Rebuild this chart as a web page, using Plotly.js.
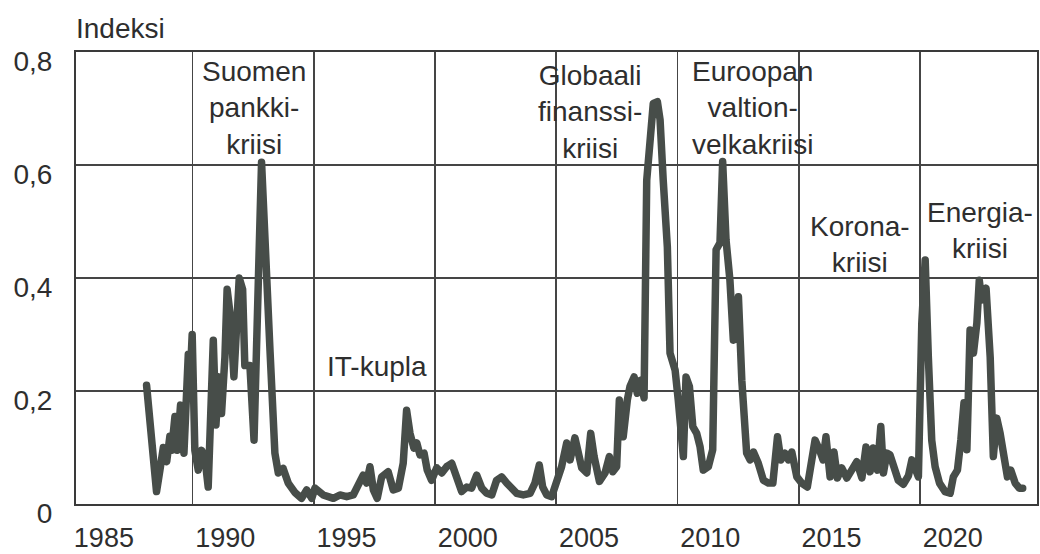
<!DOCTYPE html>
<html>
<head>
<meta charset="utf-8">
<script src="https://cdn.plot.ly/plotly-3.0.1.min.js"></script>
<style>
  html, body { margin: 0; padding: 0; background: #fff; }
  #chart { width: 1040px; height: 554px; }
  .js-line { stroke-linejoin: round !important; stroke-linecap: round !important; }
</style>
</head>
<body>
<div id="chart"></div>
<script>
// Stress index (Indeksi)
const years = [
  1986.76, 1987.17, 1987.31, 1987.45, 1987.59, 1987.72, 1987.79, 1987.93, 1988.02, 1988.16,
  1988.30, 1988.48, 1988.55, 1988.64, 1988.75, 1988.89, 1989.03, 1989.16, 1989.30, 1989.51,
  1989.62, 1989.74, 1989.85, 1989.99, 1990.08, 1990.22, 1990.36, 1990.47, 1990.58, 1990.72,
  1990.81, 1991.02, 1991.19, 1991.50, 1991.64, 1991.85, 1992.05, 1992.19, 1992.39, 1992.60,
  1992.88, 1993.15, 1993.36, 1993.57, 1993.70, 1993.84, 1994.04, 1994.25, 1994.46, 1994.73,
  1995.01, 1995.28, 1995.42, 1995.56, 1995.69, 1995.83, 1995.97, 1996.11, 1996.27, 1996.45,
  1996.59, 1996.72, 1996.93, 1997.14, 1997.34, 1997.48, 1997.62, 1997.78, 1997.90, 1998.03,
  1998.20, 1998.33, 1998.51, 1998.72, 1998.93, 1999.13, 1999.34, 1999.54, 1999.75, 1999.96,
  2000.16, 2000.37, 2000.58, 2000.78, 2000.99, 2001.19, 2001.40, 2001.61, 2001.81, 2002.02,
  2002.29, 2002.57, 2002.77, 2002.95, 2003.09, 2003.26, 2003.46, 2003.67, 2003.87, 2004.08,
  2004.22, 2004.42, 2004.56, 2004.70, 2004.91, 2005.07, 2005.21, 2005.43, 2005.66, 2005.84,
  2005.98, 2006.14, 2006.25, 2006.41, 2006.58, 2006.69, 2006.86, 2006.99, 2007.13, 2007.27,
  2007.38, 2007.52, 2007.65, 2007.82, 2007.93, 2008.06, 2008.23, 2008.34, 2008.55, 2008.68,
  2008.79, 2008.89, 2009.00, 2009.14, 2009.28, 2009.44, 2009.58, 2009.71, 2009.92, 2010.10,
  2010.24, 2010.40, 2010.51, 2010.65, 2010.81, 2010.95, 2011.16, 2011.30, 2011.50, 2011.64,
  2011.78, 2011.98, 2012.19, 2012.39, 2012.58, 2012.77, 2012.91, 2013.08, 2013.22, 2013.36,
  2013.57, 2013.77, 2014.00, 2014.18, 2014.32, 2014.50, 2014.65, 2014.77, 2014.94, 2015.10,
  2015.24, 2015.42, 2015.63, 2015.83, 2016.04, 2016.25, 2016.42, 2016.59, 2016.72, 2016.89,
  2017.03, 2017.14, 2017.28, 2017.41, 2017.55, 2017.75, 2017.96, 2018.17, 2018.31, 2018.44,
  2018.58, 2018.72, 2018.86, 2018.99, 2019.13, 2019.27, 2019.45, 2019.68, 2019.89, 2020.02,
  2020.19, 2020.33, 2020.46, 2020.58, 2020.71, 2020.85, 2020.99, 2021.09, 2021.19, 2021.37,
  2021.54, 2021.67, 2021.81, 2021.95, 2022.08, 2022.25, 2022.39, 2022.57, 2022.74, 2022.88
];
const index = [
  0.210, 0.022, 0.060, 0.100, 0.075, 0.120, 0.095, 0.155, 0.095, 0.175,
  0.090, 0.265, 0.215, 0.300, 0.095, 0.060, 0.095, 0.083, 0.030, 0.290,
  0.140, 0.225, 0.160, 0.260, 0.380, 0.330, 0.225, 0.330, 0.400, 0.380,
  0.245, 0.245, 0.113, 0.605, 0.450, 0.270, 0.090, 0.055, 0.063, 0.037,
  0.020, 0.010, 0.025, 0.010, 0.028, 0.022, 0.016, 0.013, 0.010, 0.016,
  0.013, 0.016, 0.030, 0.046, 0.051, 0.037, 0.066, 0.025, 0.010, 0.048,
  0.055, 0.057, 0.025, 0.028, 0.072, 0.166, 0.125, 0.099, 0.108, 0.087,
  0.090, 0.060, 0.042, 0.064, 0.055, 0.066, 0.072, 0.048, 0.022, 0.030,
  0.028, 0.051, 0.028, 0.019, 0.016, 0.042, 0.048, 0.037, 0.028, 0.019,
  0.016, 0.019, 0.037, 0.069, 0.030, 0.016, 0.013, 0.040, 0.066, 0.108,
  0.078, 0.117, 0.084, 0.064, 0.055, 0.125, 0.084, 0.040, 0.055, 0.084,
  0.057, 0.066, 0.184, 0.119, 0.184, 0.208, 0.225, 0.196, 0.219, 0.188,
  0.573, 0.650, 0.709, 0.712, 0.680, 0.573, 0.455, 0.267, 0.237, 0.184,
  0.119, 0.084, 0.225, 0.208, 0.137, 0.125, 0.101, 0.060, 0.066, 0.096,
  0.450, 0.462, 0.606, 0.467, 0.396, 0.290, 0.367, 0.219, 0.090, 0.078,
  0.092, 0.072, 0.042, 0.037, 0.037, 0.119, 0.078, 0.090, 0.078, 0.092,
  0.048, 0.037, 0.030, 0.078, 0.113, 0.096, 0.078, 0.119, 0.048, 0.092,
  0.046, 0.064, 0.046, 0.060, 0.075, 0.046, 0.101, 0.057, 0.099, 0.060,
  0.137, 0.055, 0.090, 0.087, 0.064, 0.042, 0.035, 0.050, 0.078, 0.060,
  0.048, 0.320, 0.432, 0.260, 0.113, 0.066, 0.037, 0.022, 0.019, 0.048,
  0.060, 0.113, 0.179, 0.096, 0.308, 0.267, 0.320, 0.396, 0.361, 0.382,
  0.260, 0.084, 0.152, 0.125, 0.084, 0.048, 0.060, 0.037, 0.028, 0.028
];

const yTickVals = [0, 0.2, 0.4, 0.6, 0.8];
const yTickText = ['0', '0,2', '0,4', '0,6', '0,8'];
const xTickVals = [1985, 1990, 1995, 2000, 2005, 2010, 2015, 2020];
const xTickText = ['1985', '1990', '1995', '2000', '2005', '2010', '2015', '2020'];

const crisisLabels = ['Suomen<br>pankki-<br>kriisi', 'IT-kupla', 'Globaali<br>finanssi-<br>kriisi',
  'Euroopan<br>valtion-<br>velkakriisi', 'Korona-<br>kriisi', 'Energia-<br>kriisi'];
const labelX = [1991.19, 1996.28, 2005.04, 2011.72, 2016.18, 2021.12];
const labelY = [0.701, 0.2425, 0.694, 0.701, 0.459, 0.484];

const FONT = 'Liberation Sans, Arial, sans-serif';
const TXT = '#2e2e2e';
const GRID = '#454545';

const trace = {
  x: years, y: index, type: 'scatter', mode: 'lines',
  line: { color: '#474d49', width: 7.5, shape: 'linear' },
  hoverinfo: 'skip'
};

const annotations = crisisLabels.map((t, i) => ({
  text: t, x: labelX[i], y: labelY[i], xref: 'x', yref: 'y',
  xanchor: 'center', yanchor: 'middle', showarrow: false, align: 'center',
  font: { family: FONT, size: 28, color: TXT }
}));
annotations.push({
  text: 'Indeksi', xref: 'paper', yref: 'paper', x: -0.002, y: 1.053,
  xanchor: 'left', yanchor: 'middle', showarrow: false,
  font: { family: FONT, size: 28, color: TXT }
});

const layout = {
  width: 1040, height: 554,
  margin: { l: 76, r: 3, t: 52, b: 50, pad: 0 },
  paper_bgcolor: '#fff', plot_bgcolor: '#fff',
  showlegend: false,
  font: { family: FONT, size: 28, color: TXT },
  xaxis: {
    range: [1983.85, 2023.47], tickmode: 'array', tickvals: xTickVals, ticktext: xTickText,
    showgrid: false, zeroline: false, ticks: '', ticklabelstandoff: 9,
    showline: true, mirror: true, linecolor: '#3a3a3a', linewidth: 2,
    tickfont: { family: FONT, size: 27, color: TXT },
    minor: { tickmode: 'linear', tick0: 1988.65, dtick: 5, showgrid: true, gridcolor: GRID, gridwidth: 1.6, ticks: '' }
  },
  yaxis: {
    range: [0, 0.8], tickmode: 'array', tickvals: yTickVals, ticktext: yTickText,
    showgrid: true, gridcolor: GRID, gridwidth: 1.6, zeroline: false, ticks: '',
    ticklabelstandoff: 16, ticklabelshift: 9,
    showline: true, mirror: true, linecolor: '#3a3a3a', linewidth: 2,
    tickfont: { family: FONT, size: 28, color: TXT }
  },
  annotations: annotations
};

Plotly.newPlot('chart', [trace], layout, { staticPlot: true, displayModeBar: false });
</script>
</body>
</html>
